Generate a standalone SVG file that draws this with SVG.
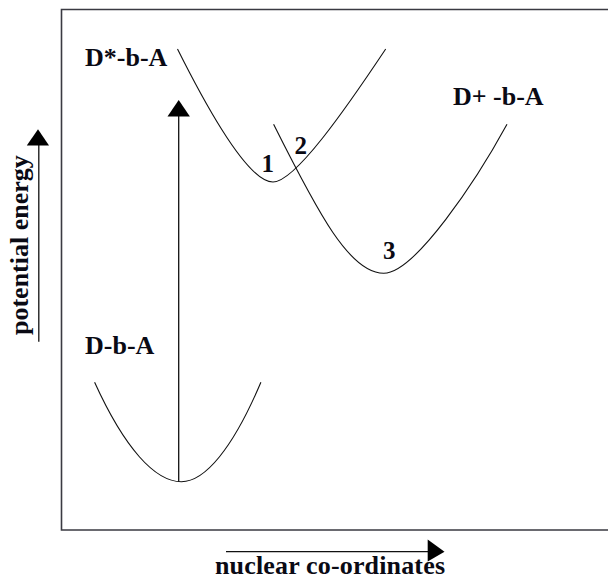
<svg xmlns="http://www.w3.org/2000/svg" width="608" height="579" viewBox="0 0 608 579">
<style>
.lbl{font-family:"Liberation Serif","Times New Roman",serif;font-weight:bold;font-size:26px;fill:#0a0a14}
.num{font-family:"Liberation Serif","Times New Roman",serif;font-weight:bold;font-size:25px;fill:#0a0a14}
.curve{fill:none;stroke:#111;stroke-width:1.1}
.ax{fill:none;stroke:#111;stroke-width:1.3}
.head{fill:#000;stroke:none}
</style>
<rect width="608" height="579" fill="#fff"/>
<g id="frame">
<path d="M608,9.5 H61.5 V530 H608" fill="none" stroke="#3a3a42" stroke-width="1.6"/>
</g>
<g id="connectors">
<line class="ax" x1="178.7" y1="481.7" x2="178.7" y2="114"/>
<polygon class="head" points="178.7,100 167.5,116.5 189.9,116.5"/>
<line class="ax" x1="38.8" y1="341.7" x2="38.8" y2="144"/>
<polygon class="head" points="38,129.3 26.8,145.5 49,145.5"/>
<line class="ax" x1="226" y1="551.7" x2="430" y2="551.7"/>
<polygon class="head" points="444.5,551.7 427.7,539.5 427.7,561.5"/>
</g>
<g id="D-star-b-A">
<path class="curve" d="M177.5,49 C212.5,119 250,182 273,182 C295,182 345.7,109 385.7,49"/>
<text class="lbl" x="85" y="66">D*-b-A</text>
</g>
<g id="D-plus-b-A">
<path class="curve" d="M273.6,124.3 C318.6,214.3 350,273.3 383.7,273.3 C415,273.3 477,179.3 507,124.3"/>
<text class="lbl" x="453" y="105">D+ -b-A</text>
</g>
<g id="D-b-A">
<path class="curve" d="M94.6,382.3 C124.6,448.3 155,481.7 181.4,481.7 C205,481.7 232.9,448.3 260.9,382.3"/>
<text class="lbl" x="85" y="354">D-b-A</text>
</g>
<g id="points">
<text class="num" x="261.5" y="171.7">1</text>
<text class="num" x="294.5" y="154">2</text>
<text class="num" x="383" y="259">3</text>
</g>
<g id="axis-labels">
<text class="lbl" transform="translate(28,335) rotate(-90)">potential energy</text>
<text class="lbl" x="215" y="574" textLength="230">nuclear co-ordinates</text>
</g>
</svg>
